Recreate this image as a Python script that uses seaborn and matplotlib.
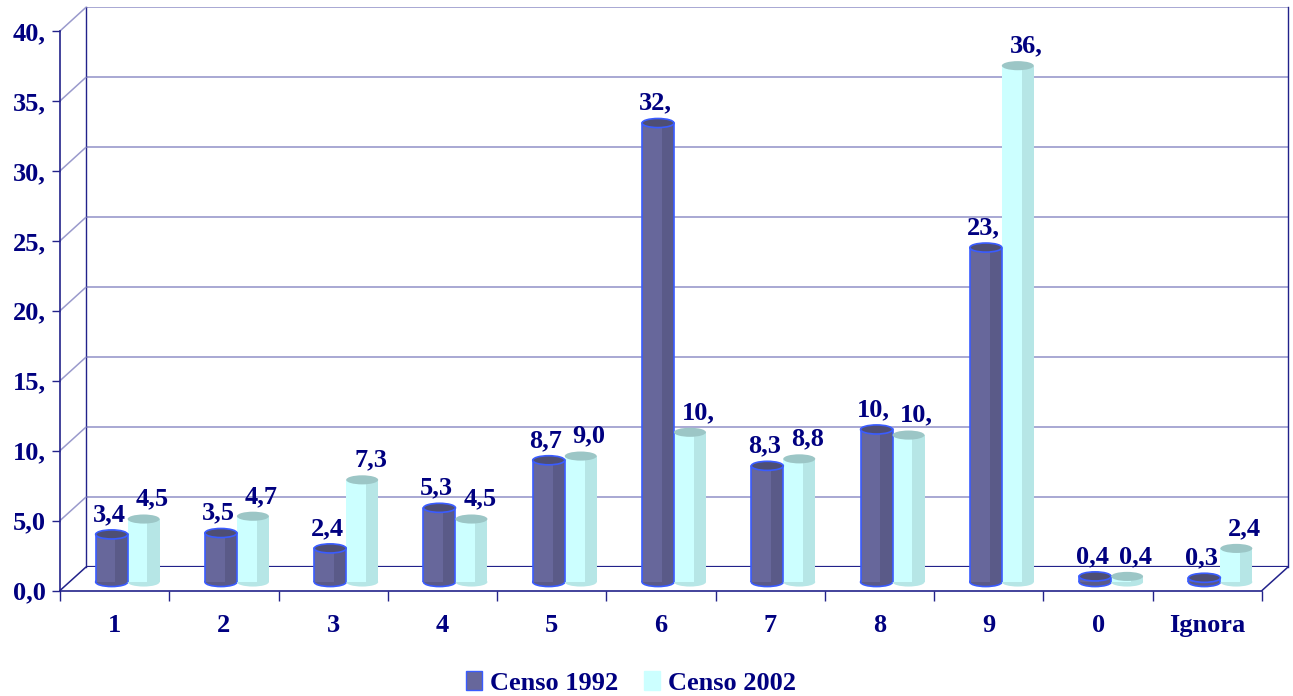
import matplotlib
matplotlib.use("Agg")
import matplotlib.pyplot as plt
import seaborn as sns
import pandas as pd
from matplotlib.patches import Ellipse, Rectangle, ConnectionPatch, Patch
from matplotlib.lines import Line2D

# ---------------- data ----------------
categories = ["1", "2", "3", "4", "5", "6", "7", "8", "9", "0", "Ignora"]
series = ["Censo 1992", "Censo 2002"]
censo_1992 = [3.4, 3.5, 2.4, 5.3, 8.7, 32.8, 8.3, 10.9, 23.9, 0.4, 0.3]
censo_2002 = [4.5, 4.7, 7.3, 4.5, 9.0, 10.7, 8.8, 10.5, 36.9, 0.4, 2.4]
labels_1992 = ["3,4", "3,5", "2,4", "5,3", "8,7", "32,", "8,3", "10,", "23,", "0,4", "0,3"]
labels_2002 = ["4,5", "4,7", "7,3", "4,5", "9,0", "10,", "8,8", "10,", "36,", "0,4", "2,4"]
y_ticks = [0, 5, 10, 15, 20, 25, 30, 35, 40]
y_tick_labels = ["0,0", "5,0", "10,", "15,", "20,", "25,", "30,", "35,", "40,"]

df = pd.DataFrame({
    "Categoria": categories * 2,
    "Valor": censo_1992 + censo_2002,
    "Serie": [series[0]] * len(categories) + [series[1]] * len(categories),
})

# ---------------- style ----------------
sns.set_theme(style="white")
plt.rcParams["font.family"] = ["Liberation Serif", "DejaVu Serif"]
plt.rcParams["font.weight"] = "bold"

NAVY = "#000080"
AXIS = "#22228a"
GRID = "#9a9acc"
FACE = {"Censo 1992": "#67679b", "Censo 2002": "#ccffff"}
SHADE = {"Censo 1992": "#5a5a88", "Censo 2002": "#b6e6e6"}
CAP = {"Censo 1992": "#4e4e74", "Censo 2002": "#9cc6c6"}
EDGE = {"Censo 1992": "#3a5cff", "Censo 2002": "none"}
FS = 19

W, H = 1293, 696
fig = plt.figure(figsize=(W / 100, H / 100), dpi=100)
fig.patch.set_facecolor("white")

def px_axes(left, bottom_px, width, height, z):
    ax = fig.add_axes([left / W, (H - bottom_px) / H, width / W, height / H])
    ax.set_zorder(z)
    ax.set_xlim(-0.5, len(categories) - 0.5)
    ax.set_ylim(0, 40)
    ax.patch.set_alpha(0)
    return ax

back = px_axes(86, 567, 1202, 559.7, 0)
front = px_axes(60, 590.5, 1202, 559.5, 1)
bars = px_axes(73, 582, 1202, 559.7, 2)

# ---------------- back wall ----------------
for s in ["top", "bottom"]:
    back.spines[s].set_visible(False)
for s in ["left", "right"]:
    back.spines[s].set_color(AXIS)
    back.spines[s].set_linewidth(1.0)
back.set_xticks([])
back.set_yticks([])
for v in y_ticks[1:]:
    back.axhline(v, color=GRID, lw=1.2)
back.axhline(0, color=AXIS, lw=1.6)

# ---------------- front axes ----------------
for s in ["top", "right"]:
    front.spines[s].set_visible(False)
for s in ["left", "bottom"]:
    front.spines[s].set_color(AXIS)
    front.spines[s].set_linewidth(1.2)
front.set_yticks(y_ticks)
front.set_yticklabels(y_tick_labels, fontsize=FS, color=NAVY, fontweight="bold")
front.tick_params(axis="y", direction="out", length=6, width=1, color=AXIS, pad=4, left=True)
front.set_xticks(range(len(categories)))
front.set_xticklabels(categories, fontsize=FS, color=NAVY, fontweight="bold")
front.tick_params(axis="x", which="major", length=0, pad=17)
front.set_xticks([i - 0.5 for i in range(len(categories) + 1)], minor=True)
front.tick_params(axis="x", which="minor", direction="out", length=7, width=1,
                  color=AXIS, bottom=True)

# perspective connectors
for v in y_ticks:
    fig.add_artist(ConnectionPatch(xyA=(-0.5, v), coordsA=front.transData,
                                   xyB=(-0.5, v), coordsB=back.transData,
                                   color=GRID if v else AXIS, lw=1.1, zorder=0.5))
fig.add_artist(ConnectionPatch(xyA=(len(categories) - 0.5, 0), coordsA=front.transData,
                               xyB=(len(categories) - 0.5, 0), coordsB=back.transData,
                               color=AXIS, lw=1.1, zorder=0.5))

# ---------------- bars ----------------
sns.barplot(data=df, x="Categoria", y="Valor", hue="Serie", hue_order=series,
            order=categories, palette=FACE, saturation=1, width=0.585, gap=0,
            dodge=True, legend=False, errorbar=None, ax=bars)
bars.set_xlim(-0.5, len(categories) - 0.5)
bars.set_ylim(0, 40)
bars.axis("off")

cap_h = 0.65
all_labels = {series[0]: labels_1992, series[1]: labels_2002}
label_dx = {series[0]: -2, series[1]: 6}
for name, cont in zip(series, bars.containers):
    for patch, lab in zip(cont.patches, all_labels[name]):
        x, w, h = patch.get_x(), patch.get_width(), patch.get_height()
        patch.set_edgecolor("none")
        patch.set_zorder(3)
        # shaded right side
        bars.add_patch(Rectangle((x + 0.62 * w, 0), 0.38 * w, h, facecolor=SHADE[name],
                                 edgecolor="none", zorder=3.1))
        # bottom rounding
        bars.add_patch(Ellipse((x + w / 2, 0), w, cap_h, facecolor=SHADE[name],
                               edgecolor=EDGE[name], lw=1.2, zorder=2.9, clip_on=False))
        if EDGE[name] != "none":
            for xe in (x, x + w):
                bars.add_line(Line2D([xe, xe], [0, h], color=EDGE[name], lw=1.2, zorder=3.2))
        # top cap
        bars.add_patch(Ellipse((x + w / 2, h), w, cap_h, facecolor=CAP[name],
                               edgecolor=EDGE[name], lw=1.2, zorder=3.3, clip_on=False))
        bars.annotate(lab, (x + w / 2, h), xytext=(label_dx[name], 6),
                      textcoords="offset points", ha="center", va="bottom",
                      fontsize=FS, color=NAVY, fontweight="bold", zorder=5,
                      annotation_clip=False)

# ---------------- legend ----------------
handles = [Patch(facecolor=FACE[s], edgecolor=(EDGE[s] if EDGE[s] != "none" else FACE[s]))
           for s in series]
leg = fig.legend(handles, series, loc="center", bbox_to_anchor=(631 / W, 1 - 683 / H),
                 ncol=2, frameon=False, fontsize=FS, handlelength=0.6, handleheight=0.7,
                 handletextpad=0.3, columnspacing=1.0, labelcolor=NAVY)
for t in leg.get_texts():
    t.set_fontweight("bold")

fig.savefig("out.png", dpi=100, facecolor="white")
